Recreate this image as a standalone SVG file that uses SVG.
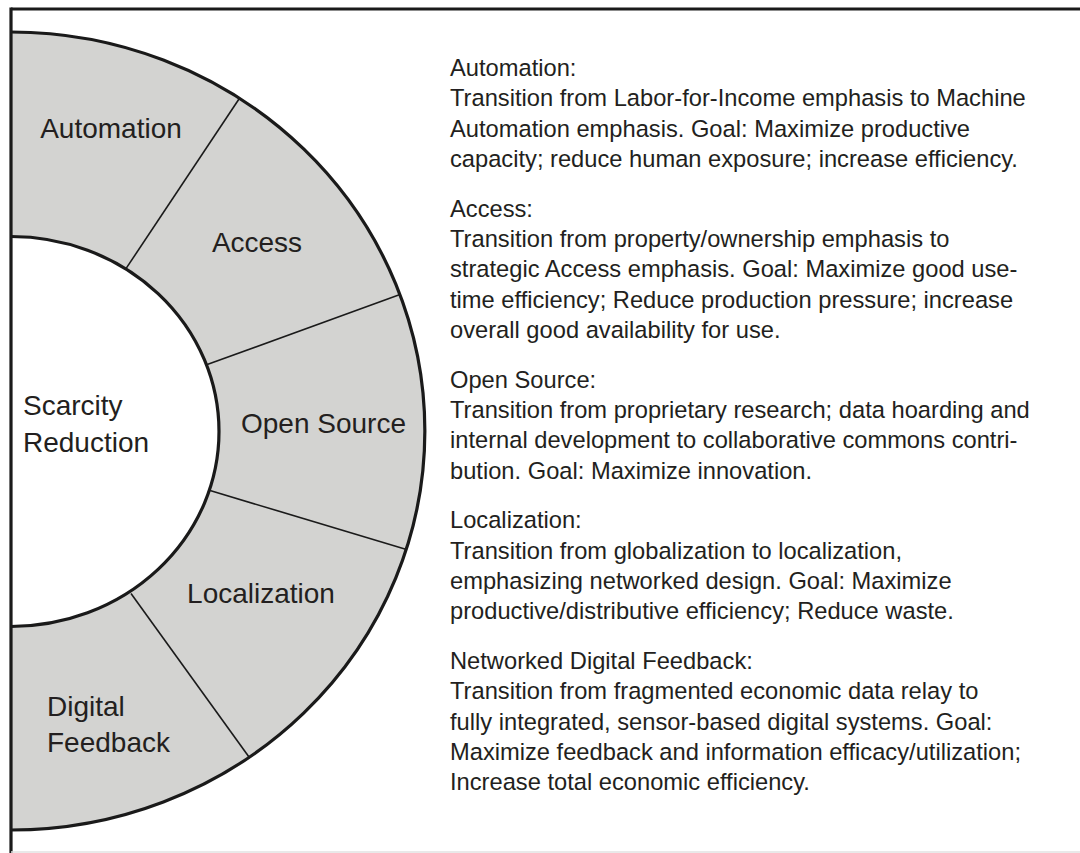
<svg xmlns="http://www.w3.org/2000/svg" width="1080" height="853" viewBox="0 0 1080 853">
<style>
.lbl{font-family:"Liberation Sans",Arial,sans-serif;font-size:28px;fill:#231f20}
.txt{font-family:"Liberation Sans",Arial,sans-serif;font-size:23.7px;fill:#231f20}
.edge{fill:none;stroke:#1a1a1a;stroke-width:3.2}
.div{stroke:#1a1a1a;stroke-width:1.6;fill:none}
</style>
<rect width="1080" height="853" fill="#fff"/>
<g id="ring">
<path d="M11,32 A414,399 0 0 1 11,830 L11,626.5 A208,195 0 0 0 11,236.5 Z" fill="#d3d3d1"/>
</g>
<g id="connectors">
<line class="div" x1="125.8" y1="268.9" x2="239.5" y2="98.3"/>
<line class="div" x1="206.5" y1="364.8" x2="400" y2="294.5"/>
<line class="div" x1="210" y1="490.5" x2="406.5" y2="549.5"/>
<line class="div" x1="131" y1="593.5" x2="249" y2="757"/>
</g>
<g id="ring-edges">
<path class="edge" d="M11,32 A414,399 0 0 1 11,830"/>
<path class="edge" d="M11,236.5 A208,195 0 0 1 11,626.5"/>
</g>
<g id="frame">
<line x1="11" y1="9" x2="1080" y2="9" stroke="#1a1a1a" stroke-width="3.2"/>
<line x1="11" y1="7.4" x2="11" y2="853" stroke="#1a1a1a" stroke-width="3.2"/>
<line x1="11" y1="852" x2="1080" y2="852" stroke="#e2e2e2" stroke-width="1.5"/>
</g>
<g id="node-scarcity"><text class="lbl" x="23" y="415">Scarcity</text><text class="lbl" x="23" y="452">Reduction</text></g>
<g id="node-automation"><text class="lbl" x="111" y="138" text-anchor="middle">Automation</text></g>
<g id="node-access"><text class="lbl" x="257" y="252" text-anchor="middle">Access</text></g>
<g id="node-opensource"><text class="lbl" x="323.5" y="433" text-anchor="middle">Open Source</text></g>
<g id="node-localization"><text class="lbl" x="261" y="603" text-anchor="middle">Localization</text></g>
<g id="node-digital"><text class="lbl" x="47" y="716">Digital</text><text class="lbl" x="47" y="752">Feedback</text></g>
<g id="desc-automation" class="txt">
<text x="450" y="76">Automation:</text>
<text x="450" y="106.3">Transition from Labor-for-Income emphasis to Machine</text>
<text x="450" y="136.6">Automation emphasis. Goal: Maximize productive</text>
<text x="450" y="166.9">capacity; reduce human exposure; increase efficiency.</text>
</g>
<g id="desc-access" class="txt">
<text x="450" y="216.7">Access:</text>
<text x="450" y="247">Transition from property/ownership emphasis to</text>
<text x="450" y="277.3">strategic Access emphasis. Goal: Maximize good use-</text>
<text x="450" y="307.6">time efficiency; Reduce production pressure; increase</text>
<text x="450" y="337.9">overall good availability for use.</text>
</g>
<g id="desc-opensource" class="txt">
<text x="450" y="387.7">Open Source:</text>
<text x="450" y="418">Transition from proprietary research; data hoarding and</text>
<text x="450" y="448.3">internal development to collaborative commons contri-</text>
<text x="450" y="478.6">bution. Goal: Maximize innovation.</text>
</g>
<g id="desc-localization" class="txt">
<text x="450" y="528.4">Localization:</text>
<text x="450" y="558.7">Transition from globalization to localization,</text>
<text x="450" y="589">emphasizing networked design. Goal: Maximize</text>
<text x="450" y="619.3">productive/distributive efficiency; Reduce waste.</text>
</g>
<g id="desc-feedback" class="txt">
<text x="450" y="669.1">Networked Digital Feedback:</text>
<text x="450" y="699.4">Transition from fragmented economic data relay to</text>
<text x="450" y="729.7">fully integrated, sensor-based digital systems. Goal:</text>
<text x="450" y="760">Maximize feedback and information efficacy/utilization;</text>
<text x="450" y="790.3">Increase total economic efficiency.</text>
</g>
</svg>
